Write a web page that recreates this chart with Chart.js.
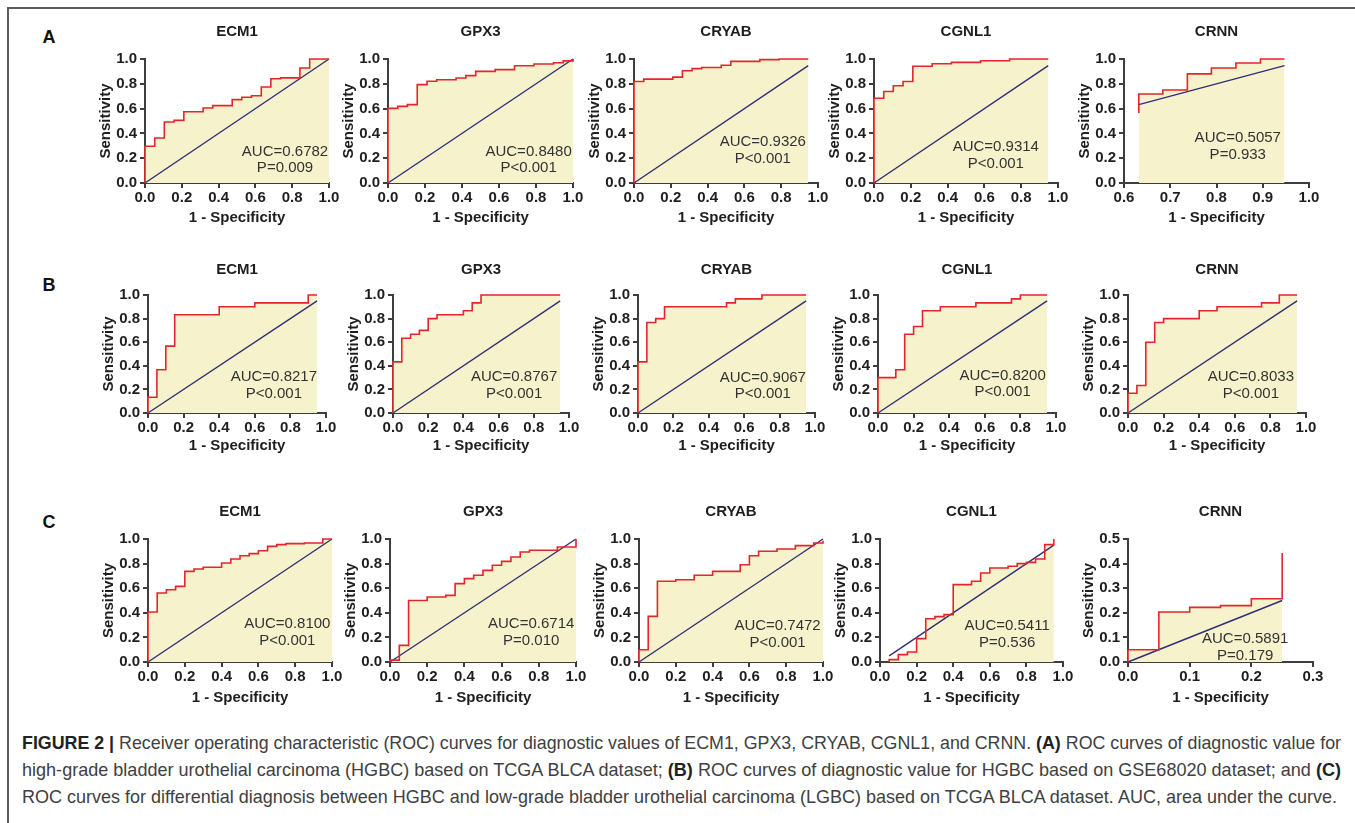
<!DOCTYPE html>
<html>
<head>
<meta charset="utf-8">
<script src="https://cdn.jsdelivr.net/npm/chart.js@4.4.1/dist/chart.umd.min.js"></script>
<style>
  body { margin: 0; background: #fff; width: 1355px; height: 823px; overflow: hidden; position: relative; font-family: "Liberation Sans", Arial, sans-serif; }
  #frame { position: absolute; left: 7px; top: 7px; width: 1400px; height: 900px; border-left: 2px solid #5c5c5c; border-top: 2px solid #5c5c5c; }
  .panel { position: absolute; }
  .lbl { position: absolute; width: 20px; text-align: center; font: bold 18px "Liberation Sans", Arial, sans-serif; line-height: 20px; color: #111; }
  .cap { position: absolute; left: 22px; white-space: nowrap; font-family: "Liberation Sans", Arial, sans-serif; font-size: 19px; line-height: 22px; color: #404040; }
  .cap b { color: #222; }
</style>
</head>
<body>
<div id="frame"></div>
<div class="lbl" style="left:39px;top:27px">A</div>
<div class="lbl" style="left:39px;top:275px">B</div>
<div class="lbl" style="left:39px;top:512px">C</div>

<div class="cap" style="top:732px" data-w="1319"><b>FIGURE 2 |</b> Receiver operating characteristic (ROC) curves for diagnostic values of ECM1, GPX3, CRYAB, CGNL1, and CRNN. <b>(A)</b> ROC curves of diagnostic value for</div>
<div class="cap" style="top:759px" data-w="1319">high-grade bladder urothelial carcinoma (HGBC) based on TCGA BLCA dataset; <b>(B)</b> ROC curves of diagnostic value for HGBC based on GSE68020 dataset; and <b>(C)</b></div>
<div class="cap" style="top:786px" data-w="1315">ROC curves for differential diagnosis between HGBC and low-grade bladder urothelial carcinoma (LGBC) based on TCGA BLCA dataset. AUC, area under the curve.</div>

<script>
const genes = ["ECM1", "GPX3", "CRYAB", "CGNL1", "CRNN"];

// each curve: from point i-1 go across to fpr[i], then up to tpr[i]
// A - HGBC vs normal, TCGA BLCA
const aEcm1Fpr = [0, 0, 0.053, 0.105, 0.158, 0.211, 0.316, 0.368, 0.474, 0.526, 0.579, 0.632, 0.684, 0.737, 0.842, 0.895, 1.0];
const aEcm1Tpr = [0, 0.296, 0.363, 0.492, 0.505, 0.575, 0.605, 0.624, 0.672, 0.691, 0.704, 0.774, 0.841, 0.848, 0.927, 1.0, 1.0];
const aGpx3Fpr = [0, 0, 0.053, 0.105, 0.158, 0.211, 0.263, 0.368, 0.421, 0.474, 0.579, 0.684, 0.789, 0.895, 0.947, 1.0];
const aGpx3Tpr = [0, 0.602, 0.618, 0.632, 0.793, 0.82, 0.833, 0.847, 0.866, 0.9, 0.914, 0.946, 0.96, 0.97, 0.985, 1.0];
const aCryabFpr = [0, 0, 0.053, 0.211, 0.263, 0.316, 0.368, 0.474, 0.526, 0.684, 0.789, 0.947];
const aCryabTpr = [0, 0.819, 0.838, 0.854, 0.905, 0.922, 0.932, 0.949, 0.981, 0.995, 1.0, 1.0];
const aCgnl1Fpr = [0, 0, 0.053, 0.105, 0.158, 0.211, 0.316, 0.421, 0.579, 0.737, 0.947];
const aCgnl1Tpr = [0, 0.684, 0.738, 0.784, 0.819, 0.941, 0.962, 0.973, 0.986, 1.0, 1.0];
const aCrnnFpr = [0.632, 0.632, 0.684, 0.737, 0.789, 0.842, 0.895, 0.947];
const aCrnnTpr = [0.565, 0.718, 0.75, 0.88, 0.927, 0.968, 1.0, 1.0];

// B - HGBC, GSE68020
const bEcm1Fpr = [0, 0, 0.05, 0.1, 0.15, 0.4, 0.6, 0.9, 0.95];
const bEcm1Tpr = [0, 0.133, 0.367, 0.567, 0.833, 0.9, 0.933, 1.0, 1.0];
const bGpx3Fpr = [0, 0, 0.05, 0.1, 0.15, 0.2, 0.25, 0.4, 0.45, 0.5, 0.95];
const bGpx3Tpr = [0, 0.433, 0.633, 0.667, 0.7, 0.8, 0.833, 0.867, 0.933, 1.0, 1.0];
const bCryabFpr = [0, 0, 0.05, 0.1, 0.15, 0.5, 0.55, 0.7, 0.95];
const bCryabTpr = [0, 0.433, 0.767, 0.8, 0.9, 0.933, 0.967, 1.0, 1.0];
const bCgnl1Fpr = [0, 0, 0.1, 0.15, 0.2, 0.25, 0.35, 0.55, 0.75, 0.8, 0.95];
const bCgnl1Tpr = [0, 0.3, 0.367, 0.667, 0.733, 0.867, 0.9, 0.933, 0.967, 1.0, 1.0];
const bCrnnFpr = [0, 0, 0.05, 0.1, 0.15, 0.2, 0.4, 0.5, 0.75, 0.85, 0.95];
const bCrnnTpr = [0, 0.167, 0.233, 0.6, 0.767, 0.8, 0.867, 0.9, 0.933, 1.0, 1.0];

// C - HGBC vs LGBC, TCGA BLCA
const cEcm1Fpr = [0, 0, 0.05, 0.1, 0.15, 0.2, 0.25, 0.3, 0.4, 0.45, 0.5, 0.55, 0.6, 0.65, 0.7, 0.75, 0.85, 0.95, 1.0];
const cEcm1Tpr = [0, 0.407, 0.561, 0.588, 0.615, 0.737, 0.756, 0.77, 0.805, 0.837, 0.864, 0.881, 0.905, 0.94, 0.954, 0.962, 0.967, 1.0, 1.0];
const cGpx3Fpr = [0, 0, 0.05, 0.1, 0.2, 0.3, 0.35, 0.4, 0.45, 0.5, 0.55, 0.6, 0.65, 0.7, 0.75, 0.9, 1.0];
const cGpx3Tpr = [0, 0.015, 0.135, 0.5, 0.528, 0.542, 0.637, 0.678, 0.705, 0.745, 0.786, 0.818, 0.854, 0.894, 0.908, 0.935, 1.0];
const cCryabFpr = [0, 0, 0.05, 0.1, 0.2, 0.3, 0.4, 0.55, 0.6, 0.65, 0.75, 0.85, 0.95, 1.0];
const cCryabTpr = [0, 0.1, 0.371, 0.656, 0.669, 0.705, 0.737, 0.791, 0.864, 0.9, 0.919, 0.946, 0.967, 0.985];
const cCgnl1Fpr = [0.05, 0.05, 0.1, 0.15, 0.2, 0.25, 0.3, 0.35, 0.4, 0.5, 0.55, 0.6, 0.7, 0.75, 0.8, 0.85, 0.9, 0.95];
const cCgnl1Tpr = [0, 0.019, 0.06, 0.081, 0.19, 0.352, 0.369, 0.385, 0.629, 0.656, 0.724, 0.764, 0.778, 0.8, 0.81, 0.837, 0.954, 1.0];
const cCrnnFpr = [0, 0, 0.05, 0.1, 0.15, 0.2, 0.25];
const cCrnnTpr = [0, 0.05, 0.203, 0.222, 0.229, 0.257, 0.443];

// reference line (start, end)
const diagA = [[0, 1], [0, 1], [0, 0.947], [0, 0.947], [0.632, 0.947]];
const diagB = [[0, 0.95], [0, 0.95], [0, 0.95], [0, 0.95], [0, 0.95]];
const diagC = [[0, 1], [0, 1], [0, 1], [0.05, 0.95], [0, 0.25]];

const aucA = ["AUC=0.6782", "AUC=0.8480", "AUC=0.9326", "AUC=0.9314", "AUC=0.5057"];
const pA = ["P=0.009", "P<0.001", "P<0.001", "P<0.001", "P=0.933"];
const aucB = ["AUC=0.8217", "AUC=0.8767", "AUC=0.9067", "AUC=0.8200", "AUC=0.8033"];
const pB = ["P<0.001", "P<0.001", "P<0.001", "P<0.001", "P<0.001"];
const aucC = ["AUC=0.8100", "AUC=0.6714", "AUC=0.7472", "AUC=0.5411", "AUC=0.5891"];
const pC = ["P<0.001", "P=0.010", "P<0.001", "P=0.536", "P=0.179"];

const ticks01 = [0, 0.2, 0.4, 0.6, 0.8, 1.0];
const ticksCrnnAX = [0.6, 0.7, 0.8, 0.9, 1.0];
const ticksCrnnCX = [0, 0.1, 0.2, 0.3];
const ticksCrnnCY = [0, 0.1, 0.2, 0.3, 0.4, 0.5];

// layout of the plot areas (px)
const rowTop = [59, 295, 539];
const rowBottom = [183, 413, 662];
const rowXH = [44, 42, 45];
const rowTitleGap = [27, 25.5, 27.5];
const colLeft = [[145, 388, 634, 874, 1124], [148, 393, 638, 878, 1128], [148, 390, 639, 880, 1128]];
const colRight = [[329, 573, 818, 1058, 1309], [326, 569, 815, 1056, 1306], [332, 576, 823, 1063, 1313]];
const textPos = [
  [[0.761, 0.255], [0.76, 0.255], [0.70, 0.332], [0.662, 0.292], [0.846, 0.363]],
  [[0.707, 0.307], [0.688, 0.307], [0.705, 0.302], [0.70, 0.318], [0.69, 0.306]],
  [[0.757, 0.309], [0.759, 0.309], [0.753, 0.295], [0.695, 0.295], [0.19, 0.0935]]
];

const RED = "#e3262b", NAVY = "#2e2f78", FILL = "#f6f3cc", AXIS = "#3d3d3d", TXT = "#1e1e1e";
const FONT = "'Liberation Sans', Arial, sans-serif";

const panelText = {
  id: "panelText",
  afterDatasetsDraw(chart, args, o) {
    const { ctx, chartArea: a, scales } = chart;
    ctx.save();
    ctx.textAlign = "center";
    ctx.textBaseline = "middle";
    ctx.fillStyle = TXT;
    ctx.font = "bold 15px " + FONT;
    ctx.fillText(o.title, (a.left + a.right) / 2, a.top - o.gap);
    ctx.fillStyle = "#333";
    ctx.font = "15px " + FONT;
    const px = scales.x.getPixelForValue(o.tx);
    const py = scales.y.getPixelForValue(o.ty);
    ctx.fillText(o.auc, px, py);
    ctx.fillText(o.p, px, py + 16.7);
    ctx.restore();
  }
};

function steps(fpr, tpr) {
  const pts = [{ x: fpr[0], y: tpr[0] }];
  for (let i = 1; i < fpr.length; i++) {
    pts.push({ x: fpr[i], y: tpr[i - 1] });
    pts.push({ x: fpr[i], y: tpr[i] });
  }
  return pts;
}

function makePanel(r, c, fpr, tpr, diag, auc, pv, xt, yt) {
  const padL = 2, yW = 48, padT = 40, padR = 12, padB = 2, xH = rowXH[r];
  const left = colLeft[r][c], right = colRight[r][c];
  const top = rowTop[r], bottom = rowBottom[r];
  const cw = padL + yW + (right - left) + padR;
  const ch = padT + (bottom - top) + xH + padB;

  const box = document.createElement("div");
  box.className = "panel";
  box.style.left = (left - padL - yW) + "px";
  box.style.top = (top - padT) + "px";
  const cv = document.createElement("canvas");
  cv.width = cw;
  cv.height = ch;
  cv.style.width = cw + "px";
  cv.style.height = ch + "px";
  box.appendChild(cv);
  document.body.appendChild(box);

  const tickFont = { family: FONT, size: 15, weight: "bold" };
  const grid = { display: true, drawOnChartArea: false, drawTicks: true, tickLength: 5, color: AXIS, lineWidth: 2 };

  new Chart(cv, {
    type: "line",
    data: {
      datasets: [
        {
          data: steps(fpr, tpr),
          borderColor: RED,
          borderWidth: 1.6,
          backgroundColor: FILL,
          fill: "origin",
          pointRadius: 0,
          tension: 0,
          clip: 6
        },
        {
          data: diag.map((v) => ({ x: v, y: v })),
          borderColor: NAVY,
          borderWidth: 1.4,
          pointRadius: 0,
          fill: false,
          clip: 6
        }
      ]
    },
    options: {
      responsive: false,
      animation: false,
      events: [],
      layout: { padding: { left: padL, right: padR, top: padT, bottom: padB } },
      plugins: {
        legend: { display: false },
        tooltip: { enabled: false },
        filler: { drawTime: "beforeDatasetsDraw" },
        panelText: {
          title: genes[c], gap: rowTitleGap[r],
          auc: auc, p: pv, tx: textPos[r][c][0], ty: textPos[r][c][1]
        }
      },
      scales: {
        x: {
          type: "linear",
          min: xt[0],
          max: xt[xt.length - 1],
          afterFit: (s) => { s.height = xH; },
          afterBuildTicks: (s) => { s.ticks = xt.map((v) => ({ value: v })); },
          ticks: { font: tickFont, color: TXT, padding: 1, maxRotation: 0, autoSkip: false, callback: (v) => Number(v).toFixed(1) },
          grid: grid,
          border: { display: true, color: AXIS, width: 2 },
          title: { display: true, text: "1 - Specificity", color: TXT, font: tickFont, padding: { top: 1, bottom: 0 } }
        },
        y: {
          type: "linear",
          min: yt[0],
          max: yt[yt.length - 1],
          afterFit: (s) => { s.width = yW; },
          afterBuildTicks: (s) => { s.ticks = yt.map((v) => ({ value: v })); },
          ticks: { font: tickFont, color: TXT, padding: 3, autoSkip: false, callback: (v) => Number(v).toFixed(1) },
          grid: grid,
          border: { display: true, color: AXIS, width: 2 },
          title: { display: true, text: "Sensitivity", color: TXT, font: tickFont, padding: { top: 0, bottom: 1 } }
        }
      }
    },
    plugins: [panelText]
  });
}

const rowA = [[aEcm1Fpr, aEcm1Tpr], [aGpx3Fpr, aGpx3Tpr], [aCryabFpr, aCryabTpr], [aCgnl1Fpr, aCgnl1Tpr], [aCrnnFpr, aCrnnTpr]];
const rowB = [[bEcm1Fpr, bEcm1Tpr], [bGpx3Fpr, bGpx3Tpr], [bCryabFpr, bCryabTpr], [bCgnl1Fpr, bCgnl1Tpr], [bCrnnFpr, bCrnnTpr]];
const rowC = [[cEcm1Fpr, cEcm1Tpr], [cGpx3Fpr, cGpx3Tpr], [cCryabFpr, cCryabTpr], [cCgnl1Fpr, cCgnl1Tpr], [cCrnnFpr, cCrnnTpr]];

rowA.forEach((d, c) => makePanel(0, c, d[0], d[1], diagA[c], aucA[c], pA[c], c === 4 ? ticksCrnnAX : ticks01, ticks01));
rowB.forEach((d, c) => makePanel(1, c, d[0], d[1], diagB[c], aucB[c], pB[c], ticks01, ticks01));
rowC.forEach((d, c) => makePanel(2, c, d[0], d[1], diagC[c], aucC[c], pC[c], c === 4 ? ticksCrnnCX : ticks01, c === 4 ? ticksCrnnCY : ticks01));

// squeeze caption lines to the justified width (condensed look)
function fitCaption() {
  document.querySelectorAll(".cap").forEach((el) => {
    el.style.transform = "none";
    const target = +el.dataset.w;
    const natural = el.getBoundingClientRect().width;
    el.style.transformOrigin = "0 50%";
    el.style.transform = "scaleX(" + (target / natural) + ")";
  });
}
fitCaption();
if (document.fonts) document.fonts.ready.then(fitCaption);
</script>
</body>
</html>
